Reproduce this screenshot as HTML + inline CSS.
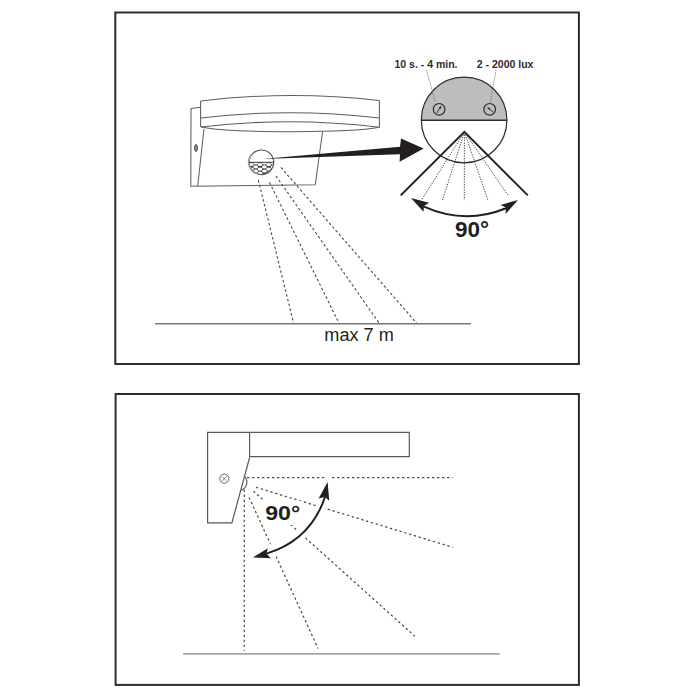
<!DOCTYPE html>
<html><head><meta charset="utf-8">
<style>
html,body{margin:0;padding:0;background:#fff;width:700px;height:700px;overflow:hidden}
svg{display:block}
text{font-family:"Liberation Sans",sans-serif}
</style></head>
<body>
<svg width="700" height="700" viewBox="0 0 700 700">
<!-- ===== TOP PANEL ===== -->
<rect x="115.3" y="12.5" width="463.6" height="351.5" fill="none" stroke="#2e2b2c" stroke-width="2"/>

<!-- lamp -->
<g fill="none" stroke="#5e5e5e" stroke-width="1.05" stroke-linejoin="round">
  <path d="M200.6,107.2 L191,108.5 L190.8,186.2 L315.3,184.7 L322.6,131.3"/>
  <path d="M204,129 L197.7,186"/>
  <path d="M200.6,100.9 V127"/>
  <path d="M379.4,100.4 V127.3"/>
  <path d="M200.6,100.9 Q290,90.35 379.4,100.4"/>
  <path d="M200.6,118 Q290,107.35 379.4,118.1"/>
  <path d="M201,127 Q290,116.45 379.4,127.3"/>
  <path d="M201,127 C232,133.2 348,133.2 379.4,127.3"/>
</g>
<ellipse cx="196" cy="148" rx="1.5" ry="3.6" fill="#888" stroke="#555" stroke-width="0.9"/>

<!-- sensor -->
<defs>
  <clipPath id="lowhalf"><path d="M248.8,162.3 A12.6,12.6 0 0 0 274,162.3 Z"/></clipPath>
</defs>
<g clip-path="url(#lowhalf)">
  <circle cx="261.4" cy="162.3" r="12.4" fill="#3a3a3a"/>
  <g fill="#fff">
    <ellipse cx="251.5" cy="164.5" rx="2.4" ry="1.6"/>
    <ellipse cx="251.5" cy="169.1" rx="2.4" ry="1.6"/>
    <ellipse cx="251.5" cy="173.2" rx="2.4" ry="1.6"/>
    <ellipse cx="260" cy="164.5" rx="2.4" ry="1.6"/>
    <ellipse cx="260" cy="169.1" rx="2.4" ry="1.6"/>
    <ellipse cx="260" cy="173.2" rx="2.4" ry="1.6"/>
    <ellipse cx="268.6" cy="164.5" rx="2.4" ry="1.6"/>
    <ellipse cx="268.6" cy="169.1" rx="2.4" ry="1.6"/>
    <ellipse cx="268.6" cy="173.2" rx="2.4" ry="1.6"/>
    <ellipse cx="255.8" cy="162.9" rx="2.4" ry="1.6"/>
    <ellipse cx="255.8" cy="166.9" rx="2.4" ry="1.6"/>
    <ellipse cx="255.8" cy="171" rx="2.4" ry="1.6"/>
    <ellipse cx="264.4" cy="162.9" rx="2.4" ry="1.6"/>
    <ellipse cx="264.4" cy="166.9" rx="2.4" ry="1.6"/>
    <ellipse cx="264.4" cy="171" rx="2.4" ry="1.6"/>
    <ellipse cx="273" cy="162.9" rx="2.4" ry="1.6"/>
    <ellipse cx="273" cy="166.9" rx="2.4" ry="1.6"/>
    <ellipse cx="273" cy="171" rx="2.4" ry="1.6"/>
  </g>
</g>
<circle cx="261.4" cy="162.3" r="12.3" fill="none" stroke="#555" stroke-width="1.15"/>
<path d="M251.5,154.5 A12.0,12.0 0 0 0 259,174" fill="none" stroke="#9a9a9a" stroke-width="1.8"/>
<line x1="249" y1="162.3" x2="273.8" y2="162.3" stroke="#444" stroke-width="1"/>

<!-- big arrow -->
<polygon points="262,158.9 400,146.8 401,138.6 423.7,148.4 399.6,161.8 400,154.2" fill="#231f20"/>

<!-- detail circle -->
<path d="M421.3,120.2 A42.8,42.8 0 0 1 506.9,120.2 Z" fill="#bdbdc0"/>
<circle cx="464.1" cy="120" r="42.8" fill="none" stroke="#2e2b2c" stroke-width="1.2"/>
<line x1="421.3" y1="120.3" x2="506.9" y2="120.3" stroke="#2e2b2c" stroke-width="1.5"/>
<circle cx="439.1" cy="109.3" r="5.8" fill="none" stroke="#2e2b2c" stroke-width="1.2"/>
<circle cx="489.7" cy="109.3" r="5.8" fill="none" stroke="#2e2b2c" stroke-width="1.2"/>
<path d="M436.8,113 L440,107.8" stroke="#2e2b2c" stroke-width="0.9" fill="none"/>
<polygon points="441.4,105.5 440.9,109 438.9,107.8" fill="#2e2b2c"/>
<path d="M493.3,112.2 L488.8,108.7" stroke="#2e2b2c" stroke-width="0.9" fill="none"/>
<polygon points="486.9,107.2 490.4,107.9 489,109.8" fill="#2e2b2c"/>
<g stroke="#555" stroke-width="0.8" stroke-dasharray="1.2 1.2" fill="none">
  <path d="M426.5,70 L435.1,101.4"/>
  <path d="M496.1,70 L490.5,101.4"/>
</g>

<!-- V and rays -->
<polyline points="400.7,195.4 464.4,131.9 527.8,195.4" fill="none" stroke="#231f20" stroke-width="2"/>
<g stroke="#333" stroke-width="0.9" stroke-dasharray="1.3 1.3" fill="none">
  <path d="M464.4,132 L421.8,199.7"/>
  <path d="M464.4,132 L442.5,200"/>
  <path d="M464.4,132 L464.3,200.2"/>
  <path d="M464.4,132 L487.8,200"/>
  <path d="M464.4,132 L508.2,195.5"/>
</g>
<!-- arc arrow -->
<path d="M424,206.6 Q465,225 506,208.2" fill="none" stroke="#231f20" stroke-width="2"/>
<polygon points="411,198 429,202.8 424,206 423.5,211.8" fill="#231f20"/>
<polygon points="518,200 505.5,214 506,207.5 500.5,205" fill="#231f20"/>
<text x="472" y="237.2" font-size="22.5" font-weight="bold" fill="#231f20" text-anchor="middle">90°</text>

<text x="394.5" y="67.6" font-size="10.5" font-weight="bold" fill="#2e2b2c">10 s. - 4 min.</text>
<text x="476.8" y="67.6" font-size="10.5" font-weight="bold" fill="#2e2b2c">2 - 2000 lux</text>

<!-- floor rays -->
<g stroke="#4a4a4a" stroke-width="1.1" stroke-dasharray="2.6 2.3" fill="none">
  <path d="M258.3,180 L293.6,323.2"/>
  <path d="M269.5,182.3 L339,323.2"/>
  <path d="M276,176 L379.2,323.2"/>
  <path d="M280.9,167.4 L416.7,323.2"/>
</g>
<line x1="155" y1="323.8" x2="470.9" y2="323.8" stroke="#777" stroke-width="1.4"/>
<text x="324.3" y="340.8" font-size="17.5" fill="#231f20" textLength="69.5" lengthAdjust="spacingAndGlyphs">max 7 m</text>

<!-- ===== BOTTOM PANEL ===== -->
<rect x="115.6" y="394" width="463.3" height="290.9" fill="none" stroke="#2e2b2c" stroke-width="2"/>
<g fill="none" stroke="#5a5a5a" stroke-width="1.2" stroke-linejoin="miter">
  <path d="M249.6,457 V432.3 H409.3 V456.7 H249.6"/>
  <path d="M249.6,457.5 L231.9,522.9 H207.6 V432.3 H249.6"/>
  <path d="M244.6,476.3 A8.5,8.5 0 0 1 241.1,490.1"/>
</g>
<g fill="none" stroke="#5a5a5a">
  <circle cx="224.3" cy="478.7" r="4.6" stroke-width="0.9"/>
  <path d="M222,476.4 L226.6,481 M226.6,476.4 L222,481" stroke-width="0.7"/>
</g>
<g stroke="#4d4d4d" stroke-width="1.25" stroke-dasharray="2.4 2.6" fill="none">
  <path d="M247,477.7 H452.6"/>
  <path d="M244.3,489.7 V650.7"/>
  <path d="M256,487.3 L452.7,547.3"/>
  <path d="M253.4,491.1 L415,636.4"/>
  <path d="M249.1,497.4 L318,648.4"/>
</g>
<g fill="#fff" stroke="#fff" stroke-width="10" stroke-linejoin="round">
  <path d="M325,497 Q310.3,540.4 266.4,553.6" fill="none"/>
  <polygon points="327.6,482.1 329.3,500.7 325,497 318.6,498.6"/>
  <polygon points="252.9,557.4 267.9,548.3 266.4,553.6 270.7,558.3"/>
  <rect x="266" y="505.5" width="33" height="14.5"/>
  <rect x="324.6" y="475" width="7.2" height="5" stroke="none"/>
</g>
<path d="M325,497 Q310.3,540.4 266.4,553.6" fill="none" stroke="#231f20" stroke-width="2"/>
<polygon points="327.6,482.1 329.3,500.7 325,497 318.6,498.6" fill="#231f20"/>
<polygon points="252.9,557.4 267.9,548.3 266.4,553.6 270.7,558.3" fill="#231f20"/>
<text x="265.2" y="520" font-size="20.5" font-weight="bold" fill="#231f20" textLength="35" lengthAdjust="spacingAndGlyphs">90°</text>
<line x1="183.1" y1="653.8" x2="499.6" y2="653.8" stroke="#a3a3a3" stroke-width="1.8"/>
</svg>
</body></html>
